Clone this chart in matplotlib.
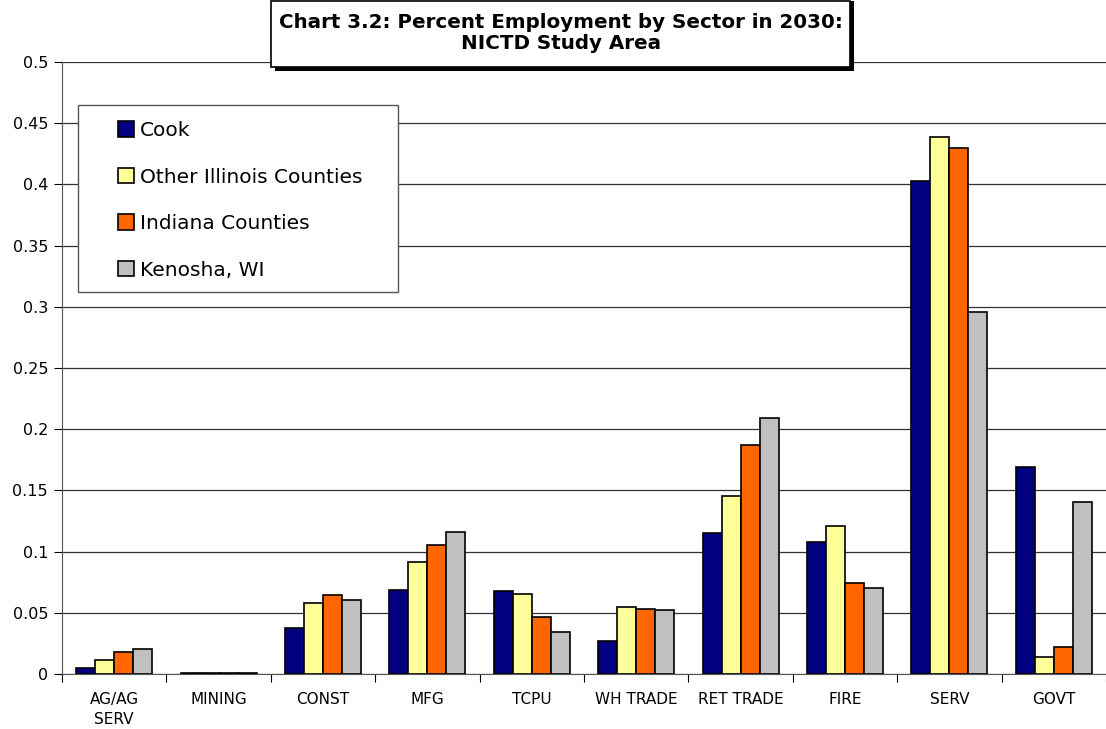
import numpy
from matplotlib import pyplot as plt
from matplotlib.patches import Rectangle

sectors = ['AG/AG\nSERV', 'MINING', 'CONST', 'MFG', 'TCPU', 'WH TRADE',
           'RET TRADE', 'FIRE', 'SERV', 'GOVT']
cook = [0.005, 0.0008, 0.0375, 0.069, 0.068, 0.027, 0.115, 0.108, 0.4025, 0.169]
other_il = [0.0113, 0.001, 0.058, 0.0915, 0.0656, 0.0544, 0.1457, 0.1207, 0.439, 0.014]
indiana = [0.0182, 0.001, 0.0643, 0.105, 0.0464, 0.053, 0.187, 0.0743, 0.430, 0.022]
kenosha = [0.0207, 0.0008, 0.0602, 0.116, 0.0342, 0.0525, 0.2095, 0.0703, 0.296, 0.1406]

series = [('Cook', cook, '#000080'),
          ('Other Illinois Counties', other_il, '#FFFF99'),
          ('Indiana Counties', indiana, '#FF6600'),
          ('Kenosha, WI', kenosha, '#C0C0C0')]

W, H = 1106, 729
fig = plt.figure(figsize=(W/100, H/100), dpi=100)
ax = fig.add_axes([62/W, 1 - 674/H, 1 - 62/W, (674 - 62)/H])

x = numpy.arange(len(sectors))
width = 0.182
for i, (name, vals, col) in enumerate(series):
    ax.bar(x + (i - 1.5)*width, vals, width, color=col, edgecolor='black',
           linewidth=1.2, label=name, zorder=3)

ax.set_xlim(-0.5, len(sectors) - 0.5)
ax.set_ylim(0, 0.5)
ax.set_yticks(numpy.arange(0, 0.501, 0.05))
ax.set_yticklabels(['0', '0.05', '0.1', '0.15', '0.2', '0.25', '0.3', '0.35', '0.4', '0.45', '0.5'],
                   fontsize=11.5)
ax.set_xticks(x)
ax.set_xticklabels(sectors, fontsize=11, linespacing=1.4)
ax.set_xticks(numpy.arange(-0.5, len(sectors)), minor=True)
ax.tick_params(axis='x', which='major', length=0, pad=13)
ax.tick_params(axis='x', which='minor', length=6, width=0.8, direction='out')
ax.tick_params(axis='y', length=6, width=0.8, direction='out', pad=4)
ax.yaxis.grid(True, color='#333333', linewidth=0.9, zorder=0)
ax.set_axisbelow(True)
for s in ['top', 'right']:
    ax.spines[s].set_visible(False)
ax.spines['left'].set_color('#555555')
ax.spines['bottom'].set_color('#555555')

# legend box drawn by hand, entries placed inside it
ax.add_patch(Rectangle((16/1044, (674 - 292)/612), 320/1044, 187/612, transform=ax.transAxes,
                       facecolor='white', edgecolor='#555555', linewidth=1.0, zorder=4))
leg = ax.legend(loc='upper left', bbox_to_anchor=(56/1044, (674 - 121)/612),
                borderaxespad=0, borderpad=0, fontsize=14.5, frameon=False,
                labelspacing=1.37, handlelength=0.8, handleheight=0.8,
                handletextpad=0.3)
leg.set_zorder(5)

# title box with shadow
fig.patches.append(Rectangle((275/W, 1 - 71/H), 579/W, 70/H, transform=fig.transFigure,
                             facecolor='black', edgecolor='none', zorder=5))
fig.patches.append(Rectangle((271/W, 1 - 67/H), 579/W, 66/H, transform=fig.transFigure,
                             facecolor='white', edgecolor='black', linewidth=1.2, zorder=6))
fig.text(561/W, 1 - 33/H, 'Chart 3.2: Percent Employment by Sector in 2030:\nNICTD Study Area',
         ha='center', va='center', fontsize=14.3, fontweight='bold', linespacing=1.15, zorder=7)

plt.savefig('out.png', dpi=100)
